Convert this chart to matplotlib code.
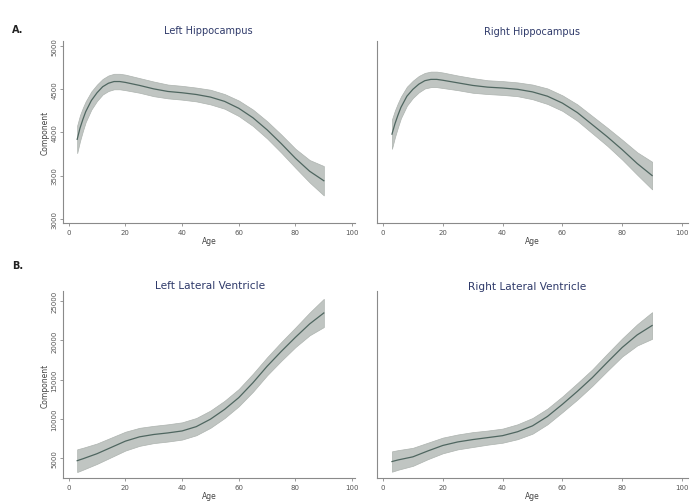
import matplotlib
matplotlib.use("Agg")
import matplotlib.pyplot as plt
import numpy as np

age_hip = [3, 4, 5, 6, 8, 10, 12, 14, 16, 18, 20, 25, 30, 35, 40, 45, 50, 55, 60, 65, 70, 75, 80, 85, 90]
left_hip = [3920, 4050, 4150, 4240, 4370, 4460, 4530, 4570, 4590, 4590, 4580, 4545, 4505, 4475, 4460,
            4440, 4410, 4360, 4280, 4170, 4030, 3870, 3700, 3550, 3440]
left_hip_ci = [160, 150, 135, 120, 105, 95, 90, 90, 90, 90, 90, 85, 85, 80, 80,
               80, 85, 85, 90, 95, 100, 105, 110, 130, 170]
right_hip = [3980, 4100, 4200, 4290, 4420, 4500, 4560, 4600, 4615, 4615, 4605, 4575, 4545, 4525, 4515,
             4500, 4470, 4420, 4340, 4230, 4090, 3950, 3800, 3640, 3500]
right_hip_ci = [170, 155, 140, 125, 110, 100, 95, 90, 90, 90, 90, 85, 85, 80, 80,
                80, 85, 90, 90, 95, 100, 105, 115, 130, 160]

age_ven = [3, 5, 10, 15, 20, 25, 30, 35, 40, 45, 50, 55, 60, 65, 70, 75, 80, 85, 90]
left_ven = [4660, 4900, 5550, 6350, 7150, 7700, 8000, 8200, 8450, 9000, 9950, 11200, 12700,
            14600, 16700, 18600, 20400, 22100, 23500]
left_ven_ci = [1450, 1400, 1300, 1250, 1200, 1150, 1100, 1100, 1100, 1100, 1100, 1100, 1100,
               1150, 1150, 1200, 1250, 1450, 1800]
right_ven = [4550, 4750, 5150, 5900, 6600, 7050, 7350, 7600, 7850, 8350, 9100, 10300, 11850,
             13500, 15250, 17200, 19100, 20700, 21900]
right_ven_ci = [1300, 1250, 1150, 1050, 1000, 950, 950, 900, 900, 950, 1000, 1000, 1000,
                1050, 1050, 1100, 1150, 1350, 1700]

hip_ticks = [3000, 3500, 4000, 4500, 5000]
ven_ticks = [5000, 10000, 15000, 20000, 25000]
age_ticks = [0, 20, 40, 60, 80, 100]

W, H = 690, 502
fig = plt.figure(figsize=(6.9, 5.02), dpi=100)

band_col = "#c0c5c2"
line_col = "#4f6660"
axis_col = "#8a8a8a"
title_col = "#2f3a6a"


def make_ax(x0, x1, ytop, ybot):
    return fig.add_axes([x0 / W, 1 - ybot / H, (x1 - x0) / W, (ybot - ytop) / H])


def panel(ax, age, mean, ci, ylim, yticks, xlim, show_y):
    age = np.array(age)
    mean = np.array(mean)
    ci = np.array(ci)
    ax.fill_between(age, mean - ci, mean + ci, color=band_col, lw=0.5, edgecolor="#adb3af")
    ax.plot(age, mean, color=line_col, lw=0.9)
    ax.set_xlim(*xlim)
    ax.set_ylim(*ylim)
    ax.set_xticks(age_ticks)
    ax.set_xticklabels([str(t) for t in age_ticks], fontsize=5, color="#555555")
    for s in ["top", "right"]:
        ax.spines[s].set_visible(False)
    for s in ["left", "bottom"]:
        ax.spines[s].set_color(axis_col)
        ax.spines[s].set_linewidth(0.8)
    ax.tick_params(length=2, width=0.6, color=axis_col, pad=2)
    if show_y:
        ax.set_yticks(yticks)
        ax.set_yticklabels([str(t) for t in yticks], fontsize=5, color="#555555",
                           rotation=90, va="center")
        ax.set_ylabel("Component", fontsize=5.5, color="#444444", labelpad=1)
    else:
        ax.set_yticks([])
    ax.set_xlabel("Age", fontsize=5.5, color="#444444", labelpad=1)


ax1 = make_ax(63, 355, 42, 224)
ax2 = make_ax(377, 688, 42, 224)
ax3 = make_ax(63, 355, 292, 479)
ax4 = make_ax(377, 688, 292, 479)

panel(ax1, age_hip, left_hip, left_hip_ci, (2950, 5060), hip_ticks, (-2, 101), True)
panel(ax2, age_hip, right_hip, right_hip_ci, (2950, 5060), hip_ticks, (-2, 102), False)
panel(ax3, age_ven, left_ven, left_ven_ci, (2450, 26300), ven_ticks, (-2, 101), True)
panel(ax4, age_ven, right_ven, right_ven_ci, (2450, 26300), ven_ticks, (-2, 102), False)

fig.text(208 / W, 1 - 31 / H, "Left Hippocampus", ha="center", va="center", fontsize=7, color=title_col)
fig.text(532 / W, 1 - 32 / H, "Right Hippocampus", ha="center", va="center", fontsize=7, color=title_col)
fig.text(210 / W, 1 - 286 / H, "Left Lateral Ventricle", ha="center", va="center", fontsize=7.6, color=title_col)
fig.text(527 / W, 1 - 287 / H, "Right Lateral Ventricle", ha="center", va="center", fontsize=7.6, color=title_col)

fig.text(12 / W, 1 - 30 / H, "A.", ha="left", va="center", fontsize=7, fontweight="bold", color="#222222")
fig.text(12 / W, 1 - 266 / H, "B.", ha="left", va="center", fontsize=7, fontweight="bold", color="#222222")

fig.savefig("out.png", dpi=100)
